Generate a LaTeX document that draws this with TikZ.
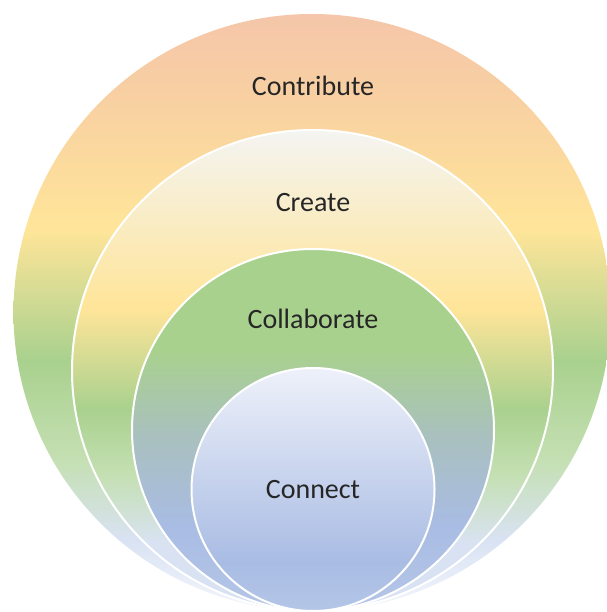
\documentclass[tikz,border=0pt]{standalone}
\usepackage{fontspec}
\setmainfont{Carlito}
\definecolor{peach}{HTML}{F5C6AA}
\definecolor{peachb}{HTML}{F8D0A2}
\definecolor{yel}{HTML}{FFE599}
\definecolor{grn}{HTML}{A9D18E}
\definecolor{lgrn}{HTML}{C5E0B4}
\definecolor{lblue}{HTML}{D9E2F3}
\definecolor{wblue}{HTML}{F4F7FC}
\definecolor{offw}{HTML}{F4F4F2}
\definecolor{grayblue}{HTML}{A9C0BF}
\definecolor{blu}{HTML}{A9BCE3}
\definecolor{blub}{HTML}{B4C6E7}
\definecolor{paleblue}{HTML}{EEF1FA}
\definecolor{txt}{HTML}{262626}
\pgfdeclareverticalshading{outershade}{100bp}{%
  color(0bp)=(wblue); color(25bp)=(wblue); color(31bp)=(lblue);
  color(37.5bp)=(lgrn); color(46bp)=(grn); color(57bp)=(yel);
  color(68bp)=(peachb); color(75bp)=(peach); color(100bp)=(peach)}
\pgfdeclareverticalshading{createshade}{100bp}{%
  color(0bp)=(lblue); color(25bp)=(lblue); color(32bp)=(lblue);
  color(39bp)=(lgrn); color(46bp)=(grn); color(56.5bp)=(yel);
  color(75bp)=(offw); color(100bp)=(offw)}
\pgfdeclareverticalshading{collabshade}{100bp}{%
  color(0bp)=(blub); color(25bp)=(blub); color(37bp)=(blu);
  color(49bp)=(grayblue); color(61bp)=(grn); color(75bp)=(grn);
  color(100bp)=(grn)}
\pgfdeclareverticalshading{connectshade}{100bp}{%
  color(0bp)=(blub); color(25bp)=(blub); color(35bp)=(blu);
  color(75bp)=(paleblue); color(100bp)=(paleblue)}
\tikzset{
  ring/.style={circle, inner sep=0pt, draw=white, line width=2pt},
  label/.style={font=\fontsize{28}{32}\selectfont, text=txt, inner sep=0pt}
}
\begin{document}
\begin{tikzpicture}[x=1pt,y=-1pt]
\useasboundingbox (0,0) rectangle (606,612);
\fill[white] (0,0) rectangle (606,612);
\node[ring, draw=none, minimum size=597pt, shading=outershade] (outer) at (312,312.5) {};
\node[ring, minimum size=481pt, shading=createshade] (create) at (312.5,370.5) {};
\node[ring, minimum size=362pt, shading=collabshade] (collab) at (313,430) {};
\node[ring, minimum size=243pt, shading=connectshade] (connect) at (313,489.5) {};
\node[label] (tcontribute) at (313,86) {Contribute};
\node[label] (tcreate) at (313,203) {Create};
\node[label] (tcollab) at (313,319) {Collaborate};
\node[label] (tconnect) at (313,490) {Connect};
\end{tikzpicture}
\end{document}
